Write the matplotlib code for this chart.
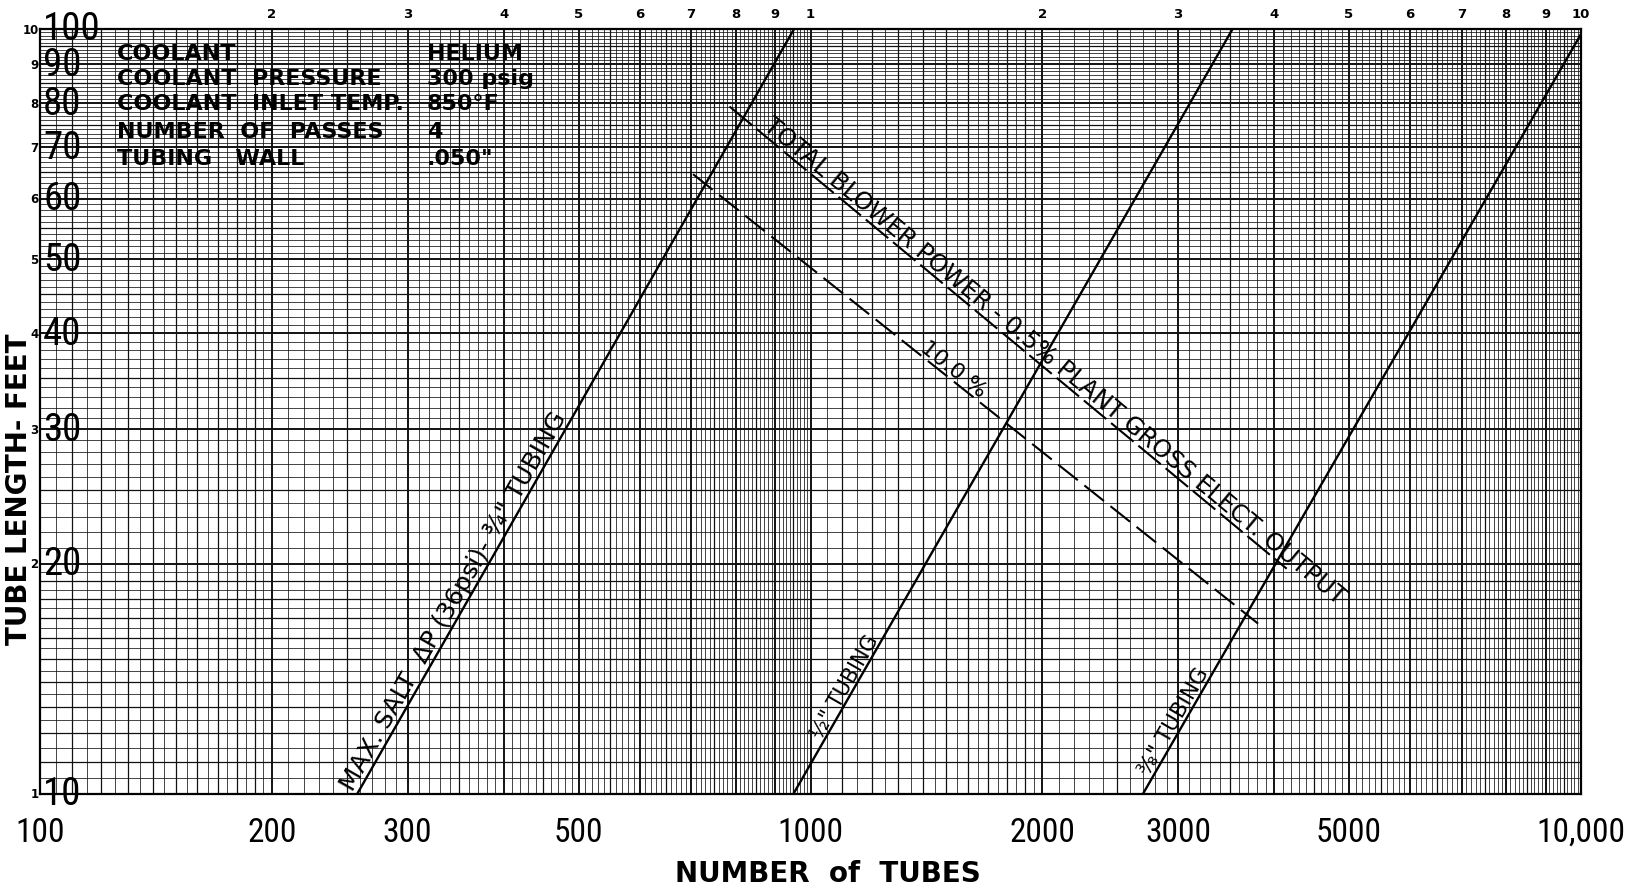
import numpy as np
import matplotlib
matplotlib.use("Agg")
import matplotlib.pyplot as plt

# ---------------- data ----------------
x_ticks = [100, 200, 300, 500, 1000, 2000, 3000, 5000, 10000]
x_tick_labels = ["100", "200", "300", "500", "1000", "2000", "3000", "5000", "10,000"]
y_ticks = [10, 20, 30, 40, 50, 60, 70, 80, 90, 100]
y_tick_labels = ["10", "20", "30", "40", "50", "60", "70", "80", "90", "100"]
top_scale_values = [200, 300, 400, 500, 600, 700, 800, 900, 1000,
                    2000, 3000, 4000, 5000, 6000, 7000, 8000, 9000, 10000]
top_scale_labels = ["2", "3", "4", "5", "6", "7", "8", "9", "1",
                    "2", "3", "4", "5", "6", "7", "8", "9", "10"]
left_scale_labels = ["1", "2", "3", "4", "5", "6", "7", "8", "9", "10"]

# tubing lines (number of tubes, tube length ft)
tubing_34_n = [258, 952]
tubing_34_len = [10, 100]
tubing_12_n = [950, 3530]
tubing_12_len = [10, 100]
tubing_38_n = [2700, 10000]
tubing_38_len = [10, 98.5]

# blower power lines
blower_05_n = [785, 4150]
blower_05_len = [79.2, 19.7]
blower_10_n = [704, 3810]
blower_10_len = [64.6, 16.7]

info_labels = ["COOLANT", "COOLANT  PRESSURE", "COOLANT  INLET TEMP.",
               "NUMBER  OF  PASSES", "TUBING   WALL"]
info_values = ["HELIUM", "300 psig", "850°F", "4", ".050\""]

# ---------------- figure ----------------
W, H = 1632, 895
fig = plt.figure(figsize=(W / 100, H / 100), dpi=100)
L, R, T, B = 40, 1581, 30, 795
ax = fig.add_axes([L / W, 1 - B / H, (R - L) / W, (B - T) / H])
ax.set_xscale("log")
ax.set_yscale("log")
ax.set_xlim(100, 10000)
ax.set_ylim(10, 100)
ax.tick_params(which="both", length=0, labelbottom=False, labelleft=False)
ax.xaxis.set_major_formatter(plt.NullFormatter())
ax.xaxis.set_minor_formatter(plt.NullFormatter())
ax.yaxis.set_major_formatter(plt.NullFormatter())
ax.yaxis.set_minor_formatter(plt.NullFormatter())
for s in ax.spines.values():
    s.set_linewidth(1.6)
    s.set_color("black")

NARROW = ["Roboto Condensed", "DejaVu Sans"]


def paper_lines(lo_exp, hi_exp):
    minor, mid, major = [], [], []
    for e in range(lo_exp, hi_exp):
        b = 10 ** e
        ms = list(range(100, 200, 5)) + list(range(200, 1000, 10))
        for m in ms:
            v = b * m / 100
            if m % 100 == 0:
                major.append(v)
            elif (m < 200 and m % 10 == 0) or (m >= 200 and m % 50 == 0):
                mid.append(v)
            else:
                minor.append(v)
    major.append(10 ** hi_exp)
    return minor, mid, major


xmin_, xmid_, xmaj_ = paper_lines(2, 4)
ymin_, ymid_, ymaj_ = paper_lines(1, 2)
gc = "#111111"
ax.vlines(xmin_, 10, 100, colors=gc, lw=0.55, zorder=1)
ax.vlines(xmid_, 10, 100, colors=gc, lw=0.9, zorder=1)
ax.vlines(xmaj_, 10, 100, colors=gc, lw=1.4, zorder=1)
ax.hlines(ymin_, 100, 10000, colors=gc, lw=0.55, zorder=1)
ax.hlines(ymid_, 100, 10000, colors=gc, lw=0.9, zorder=1)
ax.hlines(ymaj_, 100, 10000, colors=gc, lw=1.4, zorder=1)

# curves
for xs, ys in [(tubing_34_n, tubing_34_len), (tubing_12_n, tubing_12_len),
               (tubing_38_n, tubing_38_len)]:
    ax.plot(xs, ys, color="black", lw=1.7, zorder=3, solid_capstyle="butt")
ax.plot(blower_05_n, blower_05_len, color="black", lw=1.5, dashes=(14, 3), zorder=3)
ax.plot(blower_10_n, blower_10_len, color="black", lw=1.5, dashes=(12, 4), zorder=3)


def disp_angle(xs, ys):
    p = ax.transData.transform(np.column_stack([xs, ys]))
    return np.degrees(np.arctan2(p[1, 1] - p[0, 1], p[1, 0] - p[0, 0]))


def along(xs, ys, t):
    lx = np.log10(xs)
    ly = np.log10(ys)
    return 10 ** (lx[0] + t * (lx[1] - lx[0])), 10 ** (ly[0] + t * (ly[1] - ly[0]))


def line_label(xs, ys, t, s, size):
    ang = disp_angle(xs, ys)
    px, py = along(xs, ys, t)
    ax.text(px, py, s, rotation=ang, rotation_mode="anchor", ha="center",
            va="bottom", fontsize=size, color="black", zorder=4,
            family="DejaVu Sans")


line_label(tubing_34_n, tubing_34_len, 0.245, "MAX. SALT  ΔP (36psi)- ¾\" TUBING", 18)
line_label(tubing_12_n, tubing_12_len, 0.135, "½\" TUBING", 15)
line_label(tubing_38_n, tubing_38_len, 0.09, "⅜\" TUBING", 15.5)
line_label(blower_05_n, blower_05_len, 0.57,
           "TOTAL BLOWER POWER - 0.5% PLANT GROSS ELECT. OUTPUT", 17.5)
line_label(blower_10_n, blower_10_len, 0.45, "10.0 %", 16)

# x tick labels
xt = ax.get_xaxis_transform()
for v, s in zip(x_ticks, x_tick_labels):
    ax.text(v, -(833 - B) / (B - T), s, transform=xt, ha="center", va="center",
            fontsize=24, family=NARROW, clip_on=False)

# big y labels inside the left edge
yt = ax.get_yaxis_transform()
for v, s in zip(y_ticks, y_tick_labels):
    ax.text(0.002, v, s, transform=yt, ha="left", va="center", fontsize=28,
            family=NARROW, clip_on=False, zorder=5)

# small graph-paper scale labels
for v, s in zip(y_ticks, left_scale_labels):
    ax.text(-0.001, v, s, transform=yt, ha="right", va="center", fontsize=8.5,
            family="DejaVu Sans", fontweight="bold", clip_on=False)
for v, s in zip(top_scale_values, top_scale_labels):
    ax.text(v, 1 + (T - 15) / (B - T), s, transform=xt, ha="center", va="center",
            fontsize=9.5, family="DejaVu Sans", fontweight="bold", clip_on=False)

# info block
rows_y = [54, 79, 104, 132, 159]
for yy, lab, val in zip(rows_y, info_labels, info_values):
    fig.text(117 / W, 1 - yy / H, lab, ha="left", va="center", fontsize=16,
             fontweight="bold", family="DejaVu Sans", zorder=6)
    fig.text(427 / W, 1 - yy / H, val, ha="left", va="center", fontsize=16,
             fontweight="bold", family="DejaVu Sans", zorder=6)

# axis titles
fig.text(828 / W, 1 - 874 / H, "NUMBER  of  TUBES", ha="center", va="center",
         fontsize=20, family="DejaVu Sans", fontweight="bold")
fig.text(19 / W, 1 - 489 / H, "TUBE LENGTH- FEET", ha="center", va="center",
         rotation=90, fontsize=20, family="DejaVu Sans", fontweight="bold")

fig.savefig("out.png", dpi=100)
